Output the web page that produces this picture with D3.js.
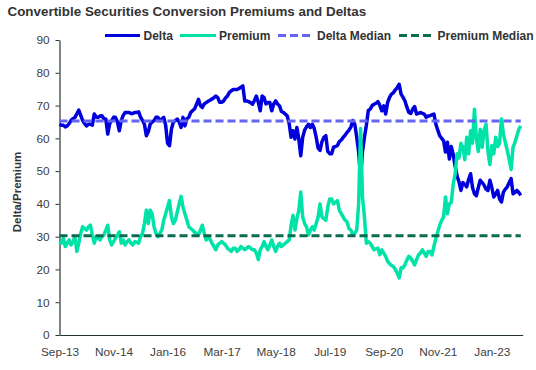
<!DOCTYPE html>
<html><head><meta charset="utf-8">
<script src="https://cdn.jsdelivr.net/npm/d3@7"></script>
<style>
body{margin:0;background:#fff;}
svg{display:block;font-family:"Liberation Sans",Arial,sans-serif;}
</style>
</head><body>
<svg id="chart" width="536" height="370"></svg>
<script>
// ---- data ----
const title = "Convertible Securities Conversion Premiums and Deltas";
const yAxisTitle = "Delta/Premium";
const tickLabels = ["Sep-13","Nov-14","Jan-16","Mar-17","May-18","Jul-19","Sep-20","Nov-21","Jan-23"];
const tickMonths = [0,14,28,42,56,70,84,98,112];   // months after Sep-13
const yTicks = [0,10,20,30,40,50,60,70,80,90];
const seriesNames = ["Delta","Premium","Delta Median","Premium Median"];
const stepMonths = 0.5;  // one value every half month from Sep-13
const deltaValues = [
64.3,64,64,63.5,63.8,64.5,65.5,66,66.4,67.5,
68.6,67,65.5,64.5,63.8,64.3,64.3,64,67.4,66.5,
66.4,66.8,66.9,66,65.9,61.3,64.5,65.4,66.4,66.4,
65,62.3,65.4,67,67.9,67.9,67.9,67.6,67.6,67.9,
67.9,68.1,66.5,65.5,64.3,60.8,62,64.3,65,65.4,
66.4,66.4,65.4,65.9,66.4,64,58.5,57.8,62.8,65,
65.4,65.9,65,63.3,66.4,63.8,66,66.4,67.9,68.5,
69,70.4,71.9,70,69.4,70.5,70.9,71.3,71.6,72,
72.4,72.9,72.4,71,71,71.4,72.3,72.9,74,74.5,
74.9,74.9,74.9,75.2,75.6,76,71.4,71.4,71.2,70.9,
70.4,71.5,72.9,71,68.4,72.9,72.4,70.5,70.9,70.9,
68.4,70.5,71.4,70.5,69.9,68.2,67.9,67.4,66.8,64.5,
60.3,62.3,59.8,63.3,59.8,54.7,60.3,62.5,63.5,64.3,
63.3,64.3,63,60.3,57,56.3,59,60.3,60.8,56,
55.3,55.3,57.3,57.5,57.8,59,59.5,60.3,61,61.8,
62.5,63.5,65.4,64.3,60.3,55.8,48,56,60.3,64,
68.5,68.9,70,70.4,70.7,71.2,70,68.4,69.9,67.4,
70.9,72.5,73.5,73.9,74.8,75.5,76.5,73.5,72.5,71.4,
69.5,67.9,67.6,68.9,69.7,67.4,67.6,67.9,67.6,67.4,
66.4,66.8,66.9,67.2,67.4,64.3,62.5,60.8,60,59.3,
55.8,58.8,53.7,57.5,55,51.5,48.5,46.7,44.1,46.5,
46,45.2,47.5,49.2,45,43.1,42.5,45,47.2,46.5,
45.7,44.5,44.1,47.2,45,42.1,43,44.1,41.5,40.6,
43.6,44.5,45.2,46.5,47.7,43.1,43.5,44.1,43.5,42.6
];
const premiumValues = [
28.5,28,29.5,27,28,29,27.5,28.5,30,25.5,
28,31,33,32.5,32,33,33.5,30.5,28,30,
29.5,29,30,30.5,32,33.5,29,27.5,28.5,29.5,
30.5,31.5,28,29,27.5,28.5,29,28,27.5,28.5,
28.3,28,30,31,34,38.1,34,38.1,37,33,
31,30,31,32,35,37,39,41,36,34,
35,37.5,40,42.3,39,37,35,33,32.5,32,
31.3,31,30.5,32,33.5,31,29,29.5,29.3,28,
27,26,27.5,28,28.5,28,27.5,26.5,26,25.5,
26.5,26.5,25.5,26,27,26.5,26,26.5,27,26.5,
26,26,25,23,26,27,28.5,27,26,27.5,
29,27,25.5,27,28,27,27.5,28,28.5,29,
33.5,36.5,32,35.5,38,43.6,36,34,33,30.5,
32,33,32,34,36,40,36,35.5,35,39,
41.5,41.5,40,40.5,41,38,37,36,35,34.5,
32.5,32,30.5,31,32,40,63,42,36,28,
28.5,28,27,26,26.3,26.5,24.5,26,25,24,
22.5,21.8,21.2,20.9,20,18.9,17.4,20.5,20.5,21.5,
22.9,24,23.5,22.5,21.4,23,24.4,25,26,25,
24,25.5,25.5,24.4,27,29.5,31.5,33.5,35,36,
42.1,37,40,40.5,46,49.2,55.3,54,58.5,57.3,
53.5,60.3,55.3,62.3,58.5,68.9,60,56,62.8,57.3,
62.5,64.3,56,52,57.8,55.3,60.3,57.5,58.5,65.9,
61.3,58.8,56.3,53.5,50.5,57.3,58.8,60.8,62.8,63.8
];
const deltaMedian = 65.3;
const premiumMedian = 30.3;

// ---- styles ----
const colors = {delta:"#0000dc", premium:"#00e3a8", deltaMed:"#6464f5", premMed:"#0a6b50"};
const svg = d3.select("#chart");
const x = d3.scaleLinear().domain([0,120]).range([59.5,522.7]);
const y = d3.scaleLinear().domain([0,90]).range([335,40]);

// title
svg.append("text").attr("x",7.5).attr("y",16).attr("font-size","13.4px").attr("font-weight","bold")
  .attr("fill","#333").text(title);

// axes
const yAxis = svg.append("g").attr("transform","translate(59.5,0)")
  .call(d3.axisLeft(y).tickValues(yTicks).tickSize(4).tickSizeOuter(0).tickPadding(6));
yAxis.selectAll("text").attr("font-size","11.8px").attr("fill","#404040").attr("font-family","inherit");
yAxis.selectAll("line").attr("stroke","#26352f");
yAxis.select(".domain").attr("stroke","#26352f").attr("stroke-width",1.2);

const xAxis = svg.append("g").attr("transform","translate(0,335)")
  .call(d3.axisBottom(x).tickValues(tickMonths).tickFormat((d,i)=>tickLabels[i]).tickSize(0).tickSizeOuter(0).tickPadding(13));
xAxis.selectAll("text").attr("font-size","11.8px").attr("fill","#404040").attr("font-family","inherit");
xAxis.select(".domain").attr("stroke","#26352f").attr("stroke-width",1.2);

svg.append("text").attr("transform","translate(20.5,192) rotate(-90)").attr("text-anchor","middle")
  .attr("font-size","11.5px").attr("font-weight","bold").attr("fill","#333").text(yAxisTitle);

// lines
const line = d3.line().x((d,i)=>x(i*stepMonths)).y(d=>y(d));
svg.append("path").datum(deltaValues).attr("d",line).attr("fill","none")
  .attr("stroke",colors.delta).attr("stroke-width",3.5).attr("stroke-linejoin","round");
svg.append("path").datum(premiumValues).attr("d",line).attr("fill","none")
  .attr("stroke",colors.premium).attr("stroke-width",3.5).attr("stroke-linejoin","round");
const lastM = (deltaValues.length-1)*stepMonths;
svg.append("line").attr("x1",x(0)).attr("x2",x(lastM)).attr("y1",y(deltaMedian)).attr("y2",y(deltaMedian))
  .attr("stroke",colors.deltaMed).attr("stroke-width",3).attr("stroke-dasharray","8,4");
svg.append("line").attr("x1",x(0)).attr("x2",x(lastM)).attr("y1",y(premiumMedian)).attr("y2",y(premiumMedian))
  .attr("stroke",colors.premMed).attr("stroke-width",3).attr("stroke-dasharray","8,4");

// legend
const legendItems = [
  {name:seriesNames[0], color:colors.delta, dash:null, x1:105, x2:140, tx:143.5},
  {name:seriesNames[1], color:colors.premium, dash:null, x1:180, x2:216, tx:219},
  {name:seriesNames[2], color:colors.deltaMed, dash:"8,4", x1:278, x2:312, tx:317},
  {name:seriesNames[3], color:colors.premMed, dash:"8,4", x1:399, x2:432, tx:437.5}
];
const lg = svg.append("g");
legendItems.forEach(it=>{
  lg.append("line").attr("x1",it.x1).attr("x2",it.x2).attr("y1",35.5).attr("y2",35.5)
    .attr("stroke",it.color).attr("stroke-width",3).attr("stroke-dasharray",it.dash);
  lg.append("text").attr("x",it.tx).attr("y",40).attr("font-size","12px").attr("font-weight","bold")
    .attr("fill","#333").text(it.name);
});
</script>
</body></html>
